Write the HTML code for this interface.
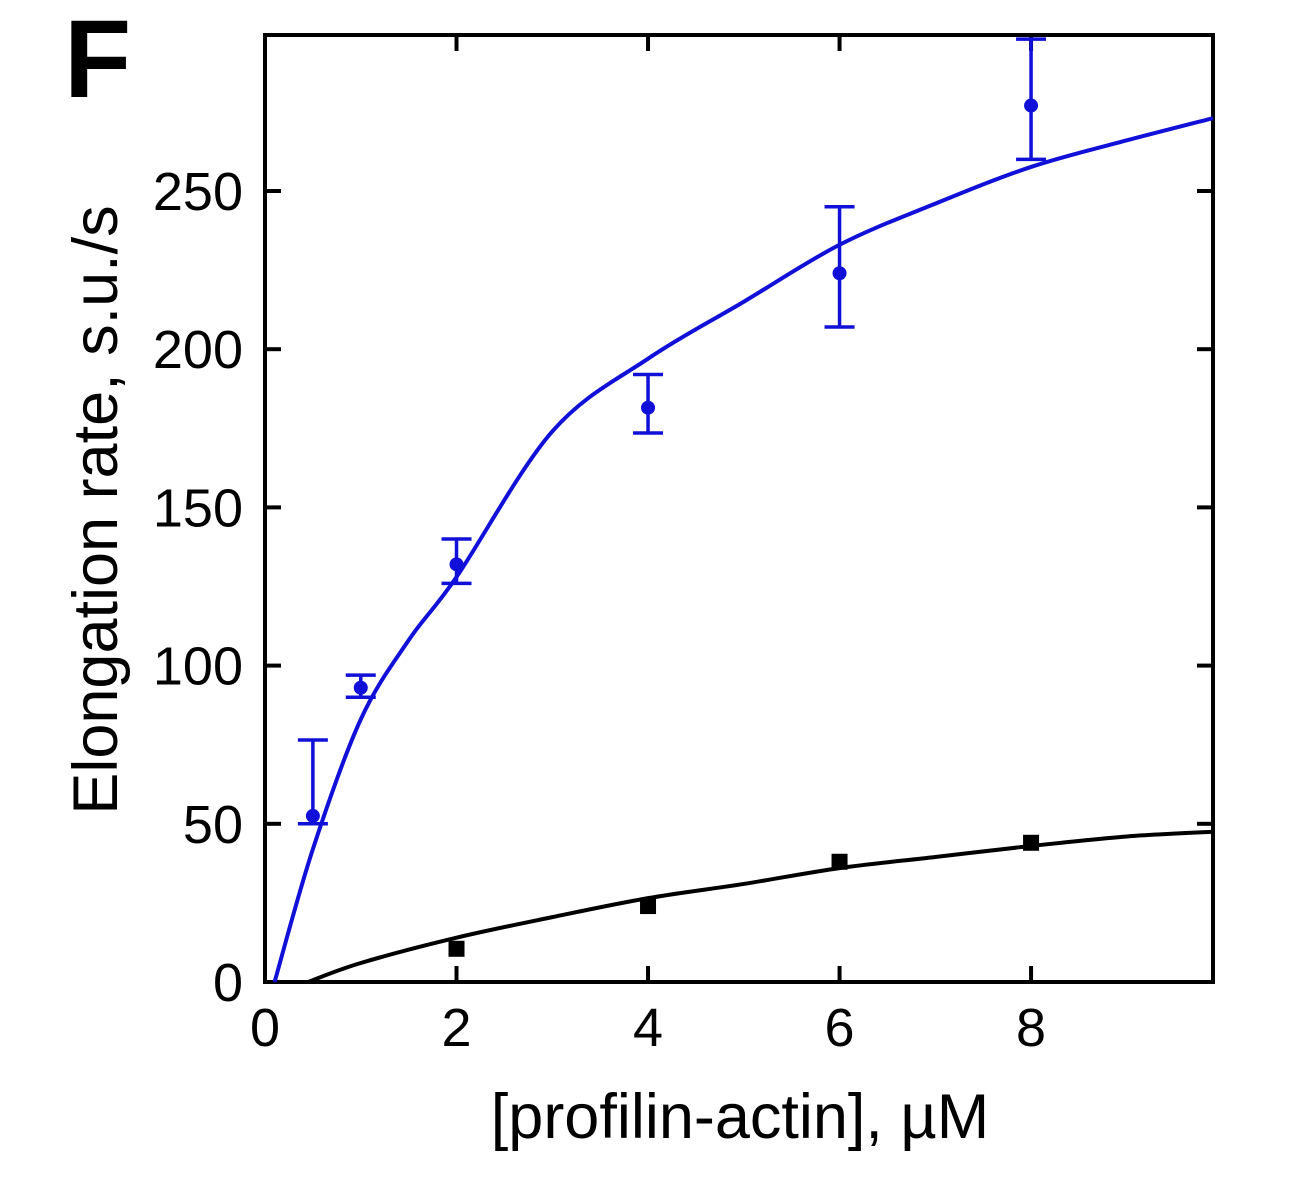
<!DOCTYPE html>
<html><head><meta charset="utf-8"><style>
html,body{margin:0;padding:0;background:#fff;}
svg{display:block;font-family:"Liberation Sans",Arial,sans-serif;}
</style></head><body>
<svg id="chart" width="1296" height="1200" viewBox="0 0 1296 1200" xmlns="http://www.w3.org/2000/svg"></svg>
<script>
const xTicks=[0,2,4,6,8];
const yTicks=[0,50,100,150,200,250];
const blueX=[0.5,1,2,4,6,8];
const blueY=[52.5,93,132,181.5,224,277];
const blueHi=[76.5,97,140,192,245,298];
const blueLo=[50,90,126,173.5,207,260];
const blackX=[2,4,6,8];
const blackY=[10.5,24,38,44];
const blueFitX=[0.1,0.5,1,1.5,2,3,4,5,6,7,8,9,9.9];
const blueFitY=[0,42,83,108,128,174,197,215,233,246,257.6,266,273];
const blackFitX=[0.45,1,2,3,4,5,6,7,8,9,9.9];
const blackFitY=[0,6,14,20.5,26.5,31,36,39.5,43,46,47.5];

const L=265,R=1213,T=35,B=982,XMAX=9.9,YMAX=299.3;
const sx=v=>L+v/XMAX*(R-L), sy=v=>B-v/YMAX*(B-T);
const svg=document.getElementById('chart');
const NS='http://www.w3.org/2000/svg';
function mk(tag,attrs,name,parent){const e=document.createElementNS(NS,tag);for(const k in attrs)e.setAttribute(k,attrs[k]);


(parent||svg).appendChild(e);return e;}
mk('text',{x:64,y:97,'font-size':110,'font-weight':'bold'},'panel-label').textContent='F';
mk('rect',{x:L,y:T,width:R-L,height:B-T,fill:'none',stroke:'#000','stroke-width':4},'plot-frame');
xTicks.forEach(t=>{const x=sx(t);
mk('line',{x1:x,y1:B,x2:x,y2:B-16,stroke:'#000','stroke-width':4},'x-tick');
mk('line',{x1:x,y1:T,x2:x,y2:T+16,stroke:'#000','stroke-width':4},'x-tick-top');
const tx=mk('text',{x:x,y:1046,'font-size':54,'text-anchor':'middle'},'x-tick-label');tx.textContent=t;});
yTicks.forEach(t=>{const y=sy(t);
mk('line',{x1:L,y1:y,x2:L+16,y2:y,stroke:'#000','stroke-width':4},'y-tick');
mk('line',{x1:R,y1:y,x2:R-16,y2:y,stroke:'#000','stroke-width':4},'y-tick-right');
const tx=mk('text',{x:243,y:y+19,'font-size':54,'text-anchor':'end'},'y-tick-label');tx.textContent=t;});
mk('text',{x:740,y:1138,'font-size':63,'text-anchor':'middle'},'x-axis-title').textContent='[profilin-actin], \u00b5M';
mk('text',{x:0,y:0,'font-size':63,'text-anchor':'middle',transform:'translate(117,510) rotate(-90)'},'y-axis-title').textContent='Elongation rate, s.u./s';
function path(xs,ys,c,name){const P=xs.map((x,i)=>[sx(x),sy(ys[i])]);
let d='M'+P[0][0]+','+P[0][1];
for(let i=0;i<P.length-1;i++){const p0=P[Math.max(0,i-1)],p1=P[i],p2=P[i+1],p3=P[Math.min(P.length-1,i+2)];
const c1=[p1[0]+(p2[0]-p0[0])/6,p1[1]+(p2[1]-p0[1])/6],c2=[p2[0]-(p3[0]-p1[0])/6,p2[1]-(p3[1]-p1[1])/6];
d+=' C'+c1+' '+c2+' '+p2;}
mk('path',{d:d,fill:'none',stroke:c,'stroke-width':4,'stroke-linejoin':'round'},name);}
path(blueFitX,blueFitY,'#1010d8','blue-fit-curve');
path(blackFitX,blackFitY,'#000','black-fit-curve');
blueX.forEach((x,i)=>{const cx=sx(x);
mk('line',{x1:cx,y1:sy(blueHi[i]),x2:cx,y2:sy(blueLo[i]),stroke:'#1010d8','stroke-width':3.5},'blue-error-bar');
[blueHi[i],blueLo[i]].forEach(v=>mk('line',{x1:cx-15,y1:sy(v),x2:cx+15,y2:sy(v),stroke:'#1010d8','stroke-width':3.5},'blue-error-cap'));
mk('circle',{cx:cx,cy:sy(blueY[i]),r:7,fill:'#1010d8'},'blue-point');});
blackX.forEach((x,i)=>mk('rect',{x:sx(x)-8,y:sy(blackY[i])-8,width:16,height:16,fill:'#000'},'black-point'));
</script>
</body></html>
